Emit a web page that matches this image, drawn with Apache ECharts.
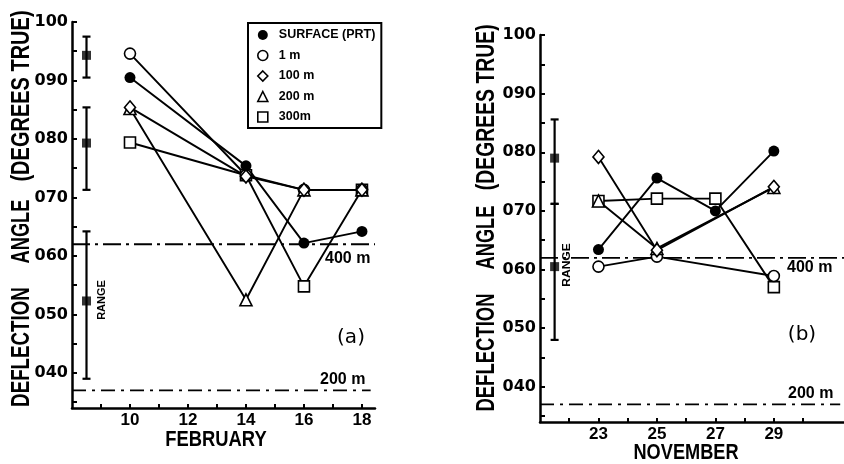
<!DOCTYPE html>
<html>
<head>
<meta charset="utf-8">
<script src="https://cdn.jsdelivr.net/npm/echarts@6/dist/echarts.min.js"></script>
<style>html,body{margin:0;padding:0;background:#fff}#c{width:844px;height:464px}</style>
</head>
<body>
<div id="c"></div>
<script>
// ---- data ----
const seriesNames = ['SURFACE (PRT)', '1 m', '100 m', '200 m', '300m'];

// (a) February
const febDays = [10, 14, 16, 18];
const febSurface = [90.5, 75.4, 62.2, 64.2];
const feb1m = [94.6, 73.8, 71.3, 71.3];
const feb100m = [85.4, 73.6, 71.3, 71.3];
const feb200m = [85.2, 52.5, 71.3, 71.3];
const feb300m = [79.4, 73.8, 54.8, 71.3];

// (b) November
const novDays = [23, 25, 27, 29];
const novSurface = [63.4, 75.6, 70.0, 80.2];
const nov1m = [60.5, 62.2, null, 58.9];
const nov100m = [79.2, 63.3, null, 74.1];
const nov200m = [71.7, 63.6, null, 74.0];
const nov300m = [71.7, 72.1, 72.1, 57.0];

// range bars: position, mid, low, high
const febRangeX = 8.5;
const febRangeMid = [94.3, 79.3, 52.3];
const febRangeLow = [90.5, 71.3, 39.0];
const febRangeHigh = [97.5, 85.4, 64.2];
const novRangeX = 21.5;
const novRangeMid = [79.0, 60.5];
const novRangeLow = [71.2, 48.0];
const novRangeHigh = [85.6, 71.2];

// reference depths (400 m, 200 m)
const feb400 = 62.0, feb200 = 37.0;
const nov400 = 62.0, nov200 = 37.0;

// axes
const yMin = 34, yMax = 100;
const yTicks = [35, 40, 45, 50, 55, 60, 65, 70, 75, 80, 85, 90, 95, 100];
const yLabels = [40, 50, 60, 70, 80, 90, 100];
const febMin = 8, febMax = 18.45;
const febTicks = [9, 10, 11, 12, 13, 14, 15, 16, 17, 18];
const febLabels = [10, 12, 14, 16, 18];
const novMin = 21, novMax = 31.4;
const novTicks = [22, 23, 24, 25, 26, 27, 28, 29, 30];
const novLabels = [23, 25, 27, 29];

// ---- chart ----
const BOLD = 'Liberation Sans';
const symbolDefs = {
  'SURFACE (PRT)': {symbol: 'circle', size: 11, legend: 10, filled: true},
  '1 m': {symbol: 'circle', size: 11, legend: 10, filled: false},
  '100 m': {symbol: 'diamond', size: [11, 13], legend: 11, filled: false},
  '200 m': {symbol: 'triangle', size: 12, legend: 10, filled: false},
  '300m': {symbol: 'rect', size: 11, legend: 10, filled: false}
};
function styleFor(name) {
  const d = symbolDefs[name];
  return d.filled ? {color: '#000'} : {color: '#fff', borderColor: '#000', borderWidth: 1.6};
}
function pairs(days, vals) { return days.map((d, i) => [d, vals[i] == null ? '-' : vals[i]]); }
function dataSeries(name, days, vals, idx) {
  const d = symbolDefs[name];
  return {
    type: 'line', name: name, xAxisIndex: idx, yAxisIndex: idx,
    data: pairs(days, vals), connectNulls: true,
    symbol: d.symbol, symbolSize: d.size, showSymbol: true,
    itemStyle: styleFor(name),
    lineStyle: {color: '#000', width: 1.9},
    z: 5, animation: false, silent: true
  };
}
function refLine(y, x0, x1, idx, dash) {
  return {
    type: 'line', xAxisIndex: idx, yAxisIndex: idx, data: [[x0, y], [x1, y]],
    symbol: 'none', lineStyle: {color: '#000', width: 1.8, type: dash},
    z: 3, animation: false, silent: true
  };
}
function renderRange(params, api) {
  const x = api.value(0), lo = api.value(1), hi = api.value(2);
  const a = api.coord([x, lo]), b = api.coord([x, hi]);
  const c = 4, st = {stroke: '#000', lineWidth: 2.2};
  return {type: 'group', children: [
    {type: 'line', shape: {x1: a[0], y1: a[1], x2: b[0], y2: b[1]}, style: st},
    {type: 'line', shape: {x1: a[0] - c, y1: a[1], x2: a[0] + c, y2: a[1]}, style: st},
    {type: 'line', shape: {x1: b[0] - c, y1: b[1], x2: b[0] + c, y2: b[1]}, style: st}
  ]};
}
function rangeSeries(x, lows, highs, mids, idx) {
  return [
    {type: 'custom', xAxisIndex: idx, yAxisIndex: idx, renderItem: renderRange,
     data: lows.map((l, i) => [x, l, highs[i]]), z: 4, animation: false, silent: true},
    {type: 'scatter', xAxisIndex: idx, yAxisIndex: idx, symbol: 'rect', symbolSize: 9,
     itemStyle: {color: '#000'}, data: mids.map(m => [x, m]), z: 6, animation: false, silent: true}
  ];
}
function xAxisDef(idx, min, max, ticks, labels) {
  return {
    type: 'value', gridIndex: idx, min: min, max: max,
    axisLine: {show: true, lineStyle: {color: '#000', width: 2.5}},
    axisTick: {show: true, inside: true, length: 4, customValues: ticks, lineStyle: {color: '#000', width: 2}},
    axisLabel: {customValues: labels, margin: 4, color: '#000', fontFamily: BOLD, fontWeight: 'bold', fontSize: 17},
    splitLine: {show: false}
  };
}
function yAxisDef(idx) {
  return {
    type: 'value', gridIndex: idx, min: yMin, max: yMax,
    axisLine: {show: true, lineStyle: {color: '#000', width: 2.5}},
    axisTick: {show: true, inside: true, length: 5, customValues: yTicks, lineStyle: {color: '#000', width: 2}},
    axisLabel: {customValues: yLabels, margin: 4, color: '#000', fontFamily: 'DejaVu Sans', fontWeight: 'bold', fontSize: 16,
      formatter: v => (v >= 100 ? String(v) : '0' + v)},
    splitLine: {show: false}
  };
}
function rotText(text, x, y, size, sx) {
  return {type: 'text', x: x, y: y, rotation: Math.PI / 2, scaleX: sx, silent: true,
    style: {text: text, fill: '#000', font: 'bold ' + size + 'px "Liberation Sans"', align: 'center', verticalAlign: 'middle'}};
}
function hText(text, x, y, font, sx, align) {
  return {type: 'text', x: x, y: y, scaleX: sx || 1, silent: true,
    style: {text: text, fill: '#000', font: font, align: align || 'center', verticalAlign: 'middle'}};
}

const chart = echarts.init(document.getElementById('c'), null, {renderer: 'canvas'});
const series = [];
[['300m', feb300m], ['1 m', feb1m], ['200 m', feb200m], ['100 m', feb100m], ['SURFACE (PRT)', febSurface]]
  .forEach(([n, v]) => series.push(dataSeries(n, febDays, v, 0)));
[['300m', nov300m], ['1 m', nov1m], ['200 m', nov200m], ['100 m', nov100m], ['SURFACE (PRT)', novSurface]]
  .forEach(([n, v]) => series.push(dataSeries(n, novDays, v, 1)));
series.push(refLine(feb400, febMin, febMax, 0, [18, 5, 3, 5]));
series.push(refLine(feb200, febMin, 18.3, 0, [14, 6, 3, 6]));
series.push(refLine(nov400, novMin, novMax, 1, [18, 5, 3, 5]));
series.push(refLine(nov200, novMin, 31.27, 1, [14, 6, 3, 6]));
series.push(...rangeSeries(febRangeX, febRangeLow, febRangeHigh, febRangeMid, 0));
series.push(...rangeSeries(novRangeX, novRangeLow, novRangeHigh, novRangeMid, 1));

chart.setOption({
  animation: false,
  backgroundColor: '#fff',
  grid: [
    {left: 72, top: 22, width: 303, height: 386, containLabel: false},
    {left: 540, top: 35, width: 304, height: 387, containLabel: false}
  ],
  xAxis: [xAxisDef(0, febMin, febMax, febTicks, febLabels), xAxisDef(1, novMin, novMax, novTicks, novLabels)],
  yAxis: [yAxisDef(0), yAxisDef(1)],
  legend: {
    left: 248, top: 23, orient: 'vertical', selectedMode: false,
    borderColor: '#000', borderWidth: 2, padding: [5, 6, 4, 9], itemGap: 6.5,
    itemWidth: 10, itemHeight: 10, symbolKeepAspect: true,
    textStyle: {fontFamily: BOLD, fontWeight: 'bold', fontSize: 12.5, color: '#000', lineHeight: 14, padding: [0, 0, 0, 6]},
    data: seriesNames.map(n => ({name: n, icon: symbolDefs[n].symbol, itemStyle: styleFor(n)}))
  },
  graphic: [
    rotText('DEFLECTION', 22.5, 347, 25, 0.75),
    rotText('ANGLE', 22.5, 231.5, 25, 0.73),
    rotText('(DEGREES TRUE)', 22.5, 96, 25, 0.8),
    rotText('DEFLECTION', 487.5, 352.5, 25, 0.74),
    rotText('ANGLE', 487.5, 237.5, 25, 0.73),
    rotText('(DEGREES TRUE)', 487.5, 107.3, 25, 0.775),
    hText('FEBRUARY', 216, 439.5, 'bold 22px "Liberation Sans"', 0.835),
    hText('NOVEMBER', 686, 453, 'bold 22px "Liberation Sans"', 0.826),
    hText('400 m', 325, 259, 'bold 16px "Liberation Sans"', 1, 'left'),
    hText('200 m', 320, 380, 'bold 16px "Liberation Sans"', 1, 'left'),
    hText('400 m', 787, 268, 'bold 16px "Liberation Sans"', 1, 'left'),
    hText('200 m', 788, 394, 'bold 16px "Liberation Sans"', 1, 'left'),
    hText('(a)', 351, 337.5, '20px "DejaVu Sans"', 1),
    hText('(b)', 802, 335, '20px "DejaVu Sans"', 1),
    rotText('RANGE', 102, 300, 11, 1),
    rotText('RANGE', 567, 265, 11, 1.1)
  ],
  series: series
});
</script>
</body>
</html>
